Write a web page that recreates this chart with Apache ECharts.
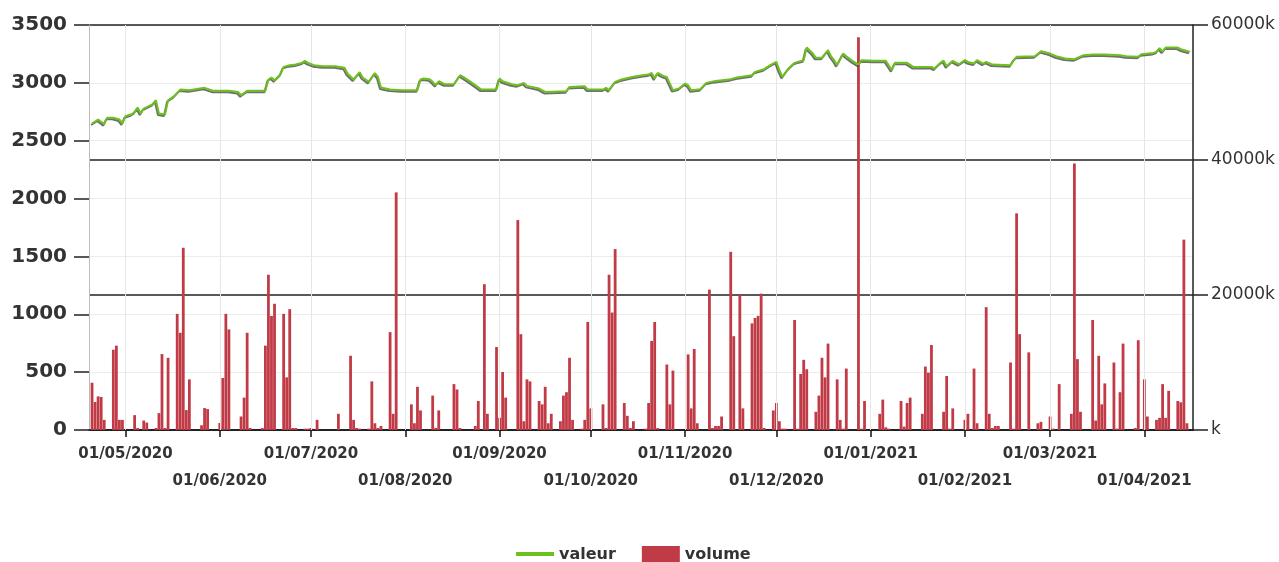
<!DOCTYPE html>
<html><head><meta charset="utf-8">
<script src="https://cdn.jsdelivr.net/npm/echarts@6/dist/echarts.min.js"></script>
<style>html,body{margin:0;padding:0;background:#fff}#c{width:1279px;height:562px}</style>
</head><body><div id="c"></div>
<script>
const monthTicks = ['2020-05-01','2020-06-01','2020-07-01','2020-08-01','2020-09-01','2020-10-01','2020-11-01','2020-12-01','2021-01-01','2021-02-01','2021-03-01','2021-04-01'];

const lineDates = ['2020-04-20','2020-04-22','2020-04-24','2020-04-25','2020-04-27','2020-04-29','2020-04-30','2020-05-01','2020-05-03','2020-05-04','2020-05-05','2020-05-06','2020-05-07','2020-05-10','2020-05-11','2020-05-12','2020-05-14','2020-05-15','2020-05-17','2020-05-19','2020-05-22','2020-05-27','2020-05-30','2020-06-04','2020-06-07','2020-06-08','2020-06-10','2020-06-16','2020-06-17','2020-06-18','2020-06-19','2020-06-21','2020-06-22','2020-06-24','2020-06-26','2020-06-28','2020-06-29','2020-06-30','2020-07-02','2020-07-05','2020-07-09','2020-07-12','2020-07-13','2020-07-15','2020-07-17','2020-07-18','2020-07-20','2020-07-22','2020-07-23','2020-07-24','2020-07-27','2020-07-31','2020-08-05','2020-08-06','2020-08-07','2020-08-09','2020-08-10','2020-08-11','2020-08-12','2020-08-14','2020-08-17','2020-08-19','2020-08-20','2020-08-22','2020-08-24','2020-08-26','2020-08-31','2020-09-01','2020-09-02','2020-09-05','2020-09-07','2020-09-09','2020-09-10','2020-09-14','2020-09-16','2020-09-23','2020-09-24','2020-09-29','2020-09-30','2020-10-05','2020-10-06','2020-10-07','2020-10-09','2020-10-11','2020-10-15','2020-10-18','2020-10-20','2020-10-21','2020-10-22','2020-10-23','2020-10-25','2020-10-26','2020-10-28','2020-10-30','2020-11-01','2020-11-02','2020-11-03','2020-11-06','2020-11-08','2020-11-11','2020-11-16','2020-11-18','2020-11-23','2020-11-24','2020-11-27','2020-11-29','2020-12-01','2020-12-02','2020-12-03','2020-12-05','2020-12-07','2020-12-08','2020-12-10','2020-12-11','2020-12-13','2020-12-14','2020-12-16','2020-12-18','2020-12-19','2020-12-20','2020-12-21','2020-12-23','2020-12-24','2020-12-26','2020-12-28','2020-12-29','2021-01-02','2021-01-06','2021-01-08','2021-01-09','2021-01-13','2021-01-15','2021-01-21','2021-01-22','2021-01-24','2021-01-25','2021-01-26','2021-01-28','2021-01-30','2021-02-01','2021-02-02','2021-02-04','2021-02-05','2021-02-07','2021-02-08','2021-02-10','2021-02-16','2021-02-17','2021-02-18','2021-02-24','2021-02-26','2021-03-01','2021-03-03','2021-03-06','2021-03-09','2021-03-12','2021-03-15','2021-03-19','2021-03-24','2021-03-26','2021-03-30','2021-03-31','2021-04-04','2021-04-05','2021-04-06','2021-04-07','2021-04-08','2021-04-12','2021-04-13','2021-04-15','2021-04-16'];
const lineValues = [2649,2683,2643,2698,2698,2683,2649,2712,2729,2747,2787,2735,2778,2816,2850,2735,2726,2850,2885,2942,2937,2957,2931,2931,2922,2893,2931,2931,3029,3046,3023,3075,3138,3153,3158,3173,3190,3173,3153,3144,3144,3130,3081,3029,3092,3046,3009,3085,3052,2960,2942,2937,2937,3029,3037,3032,3009,2980,3014,2988,2988,3066,3052,3017,2980,2942,2942,3037,3014,2988,2980,3000,2974,2951,2922,2928,2965,2971,2942,2942,2957,2937,3009,3029,3052,3066,3072,3086,3037,3086,3058,3050,2937,2951,2994,2980,2937,2945,3000,3017,3032,3046,3066,3095,3118,3153,3181,3109,3052,3124,3173,3181,3196,3305,3253,3216,3216,3282,3230,3196,3153,3253,3230,3190,3158,3196,3190,3190,3109,3173,3173,3138,3138,3124,3175,3192,3144,3190,3161,3196,3181,3167,3196,3167,3181,3158,3153,3196,3225,3230,3274,3253,3230,3210,3204,3239,3245,3245,3239,3230,3225,3248,3259,3268,3300,3270,3305,3305,3291,3276,3268];

const volDates = ['2020-04-20','2020-04-21','2020-04-22','2020-04-23','2020-04-24','2020-04-27','2020-04-28','2020-04-29','2020-04-30','2020-05-04','2020-05-05','2020-05-07','2020-05-08','2020-05-11','2020-05-12','2020-05-13','2020-05-14','2020-05-15','2020-05-18','2020-05-19','2020-05-20','2020-05-21','2020-05-22','2020-05-26','2020-05-27','2020-05-28','2020-06-01','2020-06-02','2020-06-03','2020-06-04','2020-06-08','2020-06-09','2020-06-10','2020-06-11','2020-06-15','2020-06-16','2020-06-17','2020-06-18','2020-06-19','2020-06-22','2020-06-23','2020-06-24','2020-06-25','2020-06-26','2020-06-29','2020-06-30','2020-07-01','2020-07-03','2020-07-10','2020-07-14','2020-07-15','2020-07-16','2020-07-17','2020-07-20','2020-07-21','2020-07-22','2020-07-23','2020-07-24','2020-07-27','2020-07-28','2020-07-29','2020-08-03','2020-08-04','2020-08-05','2020-08-06','2020-08-10','2020-08-11','2020-08-12','2020-08-17','2020-08-18','2020-08-19','2020-08-24','2020-08-25','2020-08-27','2020-08-28','2020-08-31','2020-09-01','2020-09-02','2020-09-03','2020-09-07','2020-09-08','2020-09-09','2020-09-10','2020-09-11','2020-09-14','2020-09-15','2020-09-16','2020-09-17','2020-09-18','2020-09-21','2020-09-22','2020-09-23','2020-09-24','2020-09-25','2020-09-28','2020-09-29','2020-09-30','2020-10-01','2020-10-05','2020-10-06','2020-10-07','2020-10-08','2020-10-09','2020-10-12','2020-10-13','2020-10-14','2020-10-15','2020-10-19','2020-10-20','2020-10-21','2020-10-22','2020-10-23','2020-10-26','2020-10-27','2020-10-28','2020-11-02','2020-11-03','2020-11-04','2020-11-05','2020-11-09','2020-11-10','2020-11-11','2020-11-12','2020-11-13','2020-11-16','2020-11-17','2020-11-19','2020-11-20','2020-11-23','2020-11-24','2020-11-25','2020-11-26','2020-11-27','2020-11-30','2020-12-01','2020-12-02','2020-12-03','2020-12-04','2020-12-07','2020-12-08','2020-12-09','2020-12-10','2020-12-11','2020-12-14','2020-12-15','2020-12-16','2020-12-17','2020-12-18','2020-12-21','2020-12-22','2020-12-23','2020-12-24','2020-12-28','2020-12-29','2020-12-30','2021-01-04','2021-01-05','2021-01-06','2021-01-07','2021-01-11','2021-01-12','2021-01-13','2021-01-14','2021-01-18','2021-01-19','2021-01-20','2021-01-21','2021-01-25','2021-01-26','2021-01-27','2021-01-28','2021-02-01','2021-02-02','2021-02-04','2021-02-05','2021-02-08','2021-02-09','2021-02-10','2021-02-11','2021-02-12','2021-02-16','2021-02-17','2021-02-18','2021-02-19','2021-02-22','2021-02-25','2021-02-26','2021-03-01','2021-03-02','2021-03-04','2021-03-08','2021-03-09','2021-03-10','2021-03-11','2021-03-15','2021-03-16','2021-03-17','2021-03-18','2021-03-19','2021-03-22','2021-03-23','2021-03-24','2021-03-25','2021-03-29','2021-03-30','2021-04-01','2021-04-02','2021-04-05','2021-04-06','2021-04-07','2021-04-08','2021-04-09','2021-04-12','2021-04-13','2021-04-14','2021-04-15'];
const volValues = [7000,4150,4980,4900,1500,11900,12500,1500,1500,2200,300,1400,1100,300,2500,11250,300,10700,17200,14400,27000,2950,7500,700,3250,3100,1050,7700,17200,14900,2000,4800,14400,300,300,12500,23000,16900,18700,17200,7800,17900,300,300,200,200,300,1500,2400,11000,1500,300,200,200,7200,1000,300,600,14500,2400,35200,3800,1000,6400,2900,5100,300,2900,6800,6000,300,600,4300,21600,2400,12300,1800,8600,4800,31100,14200,1300,7500,7200,4300,3800,6400,1000,2400,1300,5100,5600,10700,1500,200,1500,16000,3200,3800,300,23000,17400,26800,4000,2100,300,1300,200,4000,13200,16000,300,9700,3800,8800,11200,3200,12000,1000,20800,300,600,600,2000,26400,13900,20000,3200,15800,16600,16900,20200,300,2900,4000,1300,200,200,16300,200,8300,10400,9000,2700,5100,10700,7800,12800,7500,1500,200,9100,58200,200,4300,2400,4500,400,200,4300,500,4000,4800,2400,9400,8500,12600,2700,8000,200,3200,1500,2400,9100,1000,18200,2400,300,600,600,10000,200,32100,14200,11500,1000,1200,2000,200,6800,2400,39500,10500,2700,16300,1400,11000,3800,6900,10000,200,5600,12800,300,13300,7500,2000,1500,1800,6800,1800,5800,4300,4100,28200,1000];

function ts(s){const p=s.split('-');return new Date(+p[0],+p[1]-1,+p[2]).getTime();}
const monthTs = monthTicks.map(ts);
const lineData = lineDates.map((d,i)=>[ts(d), lineValues[i]]);
const volData = volDates.map((d,i)=>[ts(d), volValues[i]]);

const FONT = 'DejaVu Sans';
const GREEN = '#6cc11c';
const RED = '#c13b47';

const chart = echarts.init(document.getElementById('c'), null, {renderer:'canvas'});
chart.setOption({
  animation:false,
  textStyle:{fontFamily:FONT},
  grid:{left:89,right:86,top:25,bottom:132,outerBoundsMode:'none'},
  legend:{
    top:541,left:511,itemWidth:38,itemHeight:17,itemGap:26,
    textStyle:{fontSize:16,fontWeight:'bold',color:'#333',fontFamily:FONT},
    data:[
      {name:'valeur',icon:'path://M0,0L0.01,0M0,6L38,6L38,10L0,10ZM0,17L0.01,17',itemStyle:{color:GREEN}},
      {name:'volume',icon:'rect'}
    ]
  },
  xAxis:{
    type:'value',min:ts('2020-04-19'),max:ts('2021-04-17'),
    axisLine:{show:true,lineStyle:{color:'#111',width:1.5}},
    axisTick:{show:true,length:7,lineStyle:{color:'#111',width:1.5},customValues:monthTs},
    axisLabel:{
      customValues:monthTs,fontFamily:FONT,fontWeight:'bold',fontSize:15,color:'#333',lineHeight:27,margin:11,
      formatter:function(v){const d=new Date(v);const m=d.getMonth()+1;const s='01/'+(m<10?'0':'')+m+'/'+d.getFullYear();return m%2===0?'\n'+s:s;}
    },
    splitLine:{show:false}
  },
  yAxis:[
    {type:'value',min:0,max:3500,interval:500,position:'left',
     axisLine:{show:true,lineStyle:{color:'#bbb',width:1}},
     axisTick:{show:true,length:15,lineStyle:{color:'#222',width:1.5}},
     axisLabel:{fontFamily:FONT,fontSize:20,fontWeight:'bold',color:'#333',margin:22,formatter:function(v){return String(v);}},
     splitLine:{show:true,lineStyle:{color:'#ececec',width:1}}},
    {type:'value',min:0,max:60000,interval:20000,position:'right',
     axisLine:{show:true,lineStyle:{color:'#222',width:1.5}},
     axisTick:{show:true,length:15,lineStyle:{color:'#222',width:1.5}},
     axisLabel:{fontFamily:FONT,fontSize:17,color:'#333',margin:18,formatter:function(v){return v===0?'k':v+'k';}},
     splitLine:{show:true,lineStyle:{color:'#222',width:1.5}}}
  ],
  series:[
    {name:'volume',type:'bar',yAxisIndex:1,data:volData,barWidth:2.8,itemStyle:{color:RED},
     markLine:{silent:true,symbol:'none',label:{show:false},animation:false,
       lineStyle:{color:'#e6e6e6',type:'solid',width:1},
       data:monthTs.map(t=>({xAxis:t}))}},
    {name:'valeur',type:'line',yAxisIndex:0,data:lineData,showSymbol:false,symbol:'none',z:5,
     itemStyle:{color:GREEN},
     lineStyle:{color:GREEN,width:2,shadowColor:'rgba(50,50,50,0.7)',shadowOffsetX:-1,shadowOffsetY:1.5,shadowBlur:0}}
  ]
});
</script></body></html>
